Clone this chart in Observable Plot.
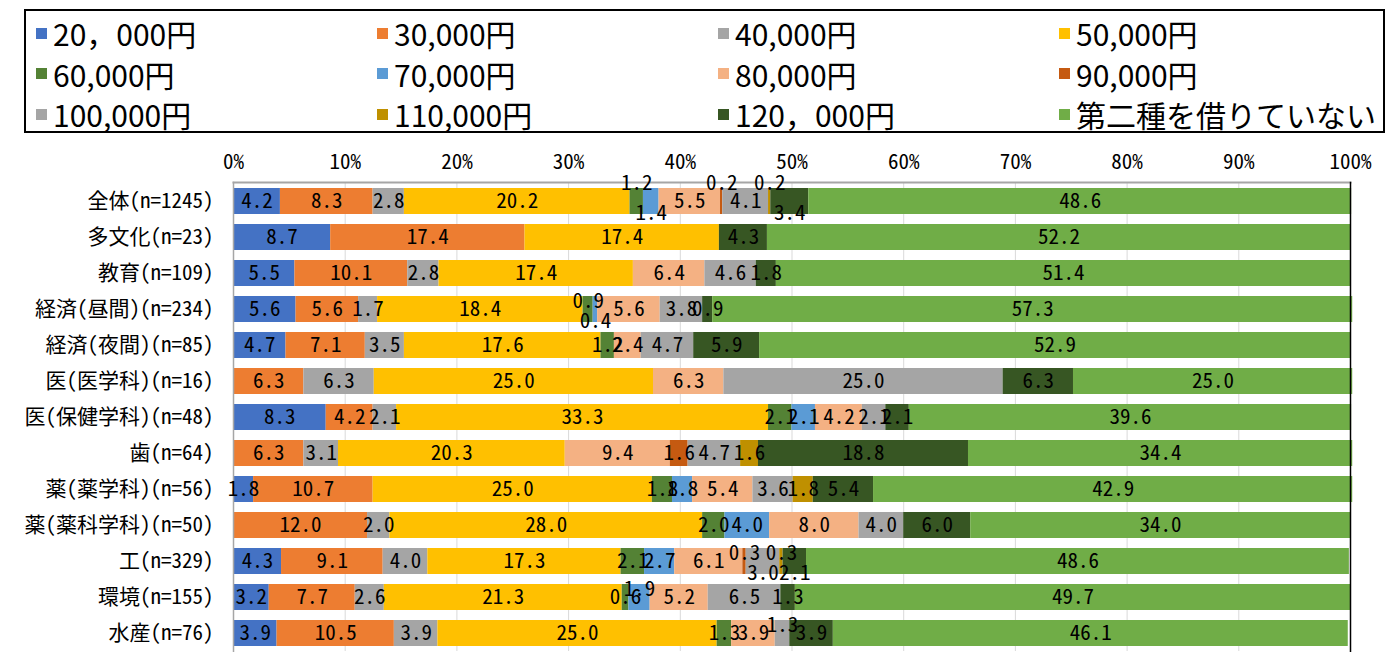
<!DOCTYPE html>
<html>
<head>
<meta charset="utf-8">
<script src="https://cdn.jsdelivr.net/npm/d3@7"></script>
<script src="https://cdn.jsdelivr.net/npm/@observablehq/plot@0.6"></script>
<style>
  body { margin: 0; background: #fff; font-family: "Noto Sans CJK JP", sans-serif; }
  #wrap { position: relative; width: 1389px; height: 652px; overflow: hidden; background: #fff; }
  #legend { position: absolute; left: 24px; top: 9px; width: 1361px; height: 124px; border: 2px solid #000;
            box-sizing: border-box; display: grid; grid-template-columns: repeat(4, 341px);
            grid-template-rows: repeat(3, 40.5px); padding: 2px 0 0 10px; }
  .item { display: flex; align-items: center; font-size: 30px; line-height: 1; color: #000; white-space: nowrap; }
  .sw { width: 11px; height: 11px; margin-right: 6px; flex: none; }
  #chart { position: absolute; left: 0; top: 140px; }
  #chart svg { font-feature-settings: "hwid" 1; }
</style>
</head>
<body>
<div id="wrap">
  <div id="legend"></div>
  <div id="chart"></div>
</div>
<script>
const categories = ["全体(n=1245)", "多文化(n=23)", "教育(n=109)", "経済(昼間)(n=234)", "経済(夜間)(n=85)",
  "医(医学科)(n=16)", "医(保健学科)(n=48)", "歯(n=64)", "薬(薬学科)(n=56)", "薬(薬科学科)(n=50)",
  "工(n=329)", "環境(n=155)", "水産(n=76)"];

const series = ["20，000円", "30,000円", "40,000円", "50,000円", "60,000円", "70,000円",
  "80,000円", "90,000円", "100,000円", "110,000円", "120，000円", "第二種を借りていない"];

const colors = ["#4472C4", "#ED7D31", "#A5A5A5", "#FFC000", "#548235", "#5B9BD5",
  "#F4B183", "#C55A11", "#A5A5A5", "#BF9000", "#375623", "#70AD47"];

const v20k  = [4.2, 8.7, 5.5, 5.6, 4.7, 0, 8.3, 0, 1.8, 0, 4.3, 3.2, 3.9];
const v30k  = [8.3, 17.4, 10.1, 5.6, 7.1, 6.3, 4.2, 6.3, 10.7, 12.0, 9.1, 7.7, 10.5];
const v40k  = [2.8, 0, 2.8, 1.7, 3.5, 6.3, 2.1, 3.1, 0, 2.0, 4.0, 2.6, 3.9];
const v50k  = [20.2, 17.4, 17.4, 18.4, 17.6, 25.0, 33.3, 20.3, 25.0, 28.0, 17.3, 21.3, 25.0];
const v60k  = [1.2, 0, 0, 0.9, 1.2, 0, 2.1, 0, 1.8, 2.0, 2.1, 0.6, 1.3];
const v70k  = [1.4, 0, 0, 0.4, 0, 0, 2.1, 0, 1.8, 4.0, 2.7, 1.9, 0];
const v80k  = [5.5, 0, 6.4, 5.6, 2.4, 6.3, 4.2, 9.4, 5.4, 8.0, 6.1, 5.2, 3.9];
const v90k  = [0.2, 0, 0, 0, 0, 0, 0, 1.6, 0, 0, 0.3, 0, 0];
const v100k = [4.1, 0, 4.6, 3.8, 4.7, 25.0, 2.1, 4.7, 3.6, 4.0, 3.0, 6.5, 1.3];
const v110k = [0.2, 0, 0, 0, 0, 0, 0, 1.6, 1.8, 0, 0.3, 0, 0];
const v120k = [3.4, 4.3, 1.8, 0.9, 5.9, 6.3, 2.1, 18.8, 5.4, 6.0, 2.1, 1.3, 3.9];
const vNone = [48.6, 52.2, 51.4, 57.3, 52.9, 25.0, 39.6, 34.4, 42.9, 34.0, 48.6, 49.7, 46.1];

const xTicks = [0, 10, 20, 30, 40, 50, 60, 70, 80, 90, 100];

// Labels that the original chart moved off their bar (by category|series)
const labelsUpLarge = ["全体(n=1245)|60,000円", "全体(n=1245)|90,000円", "全体(n=1245)|110,000円"];
const labelsUpSmall = ["経済(昼間)(n=234)|60,000円", "工(n=329)|90,000円", "工(n=329)|110,000円",
  "環境(n=155)|70,000円", "水産(n=76)|100,000円"];
const labelsDown = ["全体(n=1245)|70,000円", "全体(n=1245)|120，000円", "経済(昼間)(n=234)|70,000円",
  "工(n=329)|100,000円", "工(n=329)|120，000円"];

const valueArrays = [v20k, v30k, v40k, v50k, v60k, v70k, v80k, v90k, v100k, v110k, v120k, vNone];
const data = [];
categories.forEach((c, i) => {
  series.forEach((s, j) => data.push({category: c, series: s, value: valueArrays[j][i]}));
});

const key = d => d.category + "|" + d.series;
const group = d => labelsUpLarge.includes(key(d)) ? "upL" : labelsUpSmall.includes(key(d)) ? "upS" : labelsDown.includes(key(d)) ? "down" : "mid";
const labelFor = g => d => (d.value > 0 && group(d) === g) ? d.value.toFixed(1) : null;

// Legend
const legend = document.getElementById("legend");
series.forEach((s, j) => {
  const it = document.createElement("div");
  it.className = "item";
  const sw = document.createElement("span");
  sw.className = "sw";
  sw.style.background = colors[j];
  it.appendChild(sw);
  it.appendChild(document.createTextNode(s));
  legend.appendChild(it);
});

const textOpts = g => Plot.stackX({x: "value", y: "category", z: "series", text: labelFor(g)});

const chart = Plot.plot({
  width: 1389,
  height: 512,
  marginTop: 42,
  marginBottom: 1,
  marginLeft: 233,
  marginRight: 39,
  style: {fontFamily: "'Noto Sans CJK JP', sans-serif", fontSize: "21px", color: "#000", background: "transparent"},
  x: {domain: [0, 100], axis: null, label: null},
  y: {domain: categories, paddingInner: 0.28, paddingOuter: 0.14, axis: null, label: null},
  color: {domain: series, range: colors},
  marks: [
    Plot.gridX(xTicks, {stroke: "#D9D9D9", strokeOpacity: 1}),
    Plot.barX(data, {x: "value", y: "category", z: "series", fill: "series"}),
    Plot.frame({anchor: "top", stroke: "#A6A6A6", strokeWidth: 2}),
    Plot.frame({anchor: "left", stroke: "#A6A6A6", strokeWidth: 1.5}),
    Plot.frame({anchor: "right", stroke: "#000", strokeWidth: 1.5}),
    Plot.axisX({anchor: "top", ticks: xTicks, tickSize: 0, tickPadding: 14, tickFormat: d => d + "%", fontSize: 21, fill: "#000", label: null}),
    Plot.axisY({anchor: "left", tickSize: 0, tickPadding: 20, fontSize: 21, fill: "#000", label: null}),
    Plot.text(data, {...textOpts("mid"), fontSize: 21, fill: "#000"}),
    Plot.text(data, {...textOpts("upL"), fontSize: 21, fill: "#000", dy: -18}),
    Plot.text(data, {...textOpts("upS"), fontSize: 21, fill: "#000", dy: -8}),
    Plot.text(data, {...textOpts("down"), fontSize: 21, fill: "#000", dy: 12})
  ]
});
document.getElementById("chart").appendChild(chart);
</script>
</body>
</html>
